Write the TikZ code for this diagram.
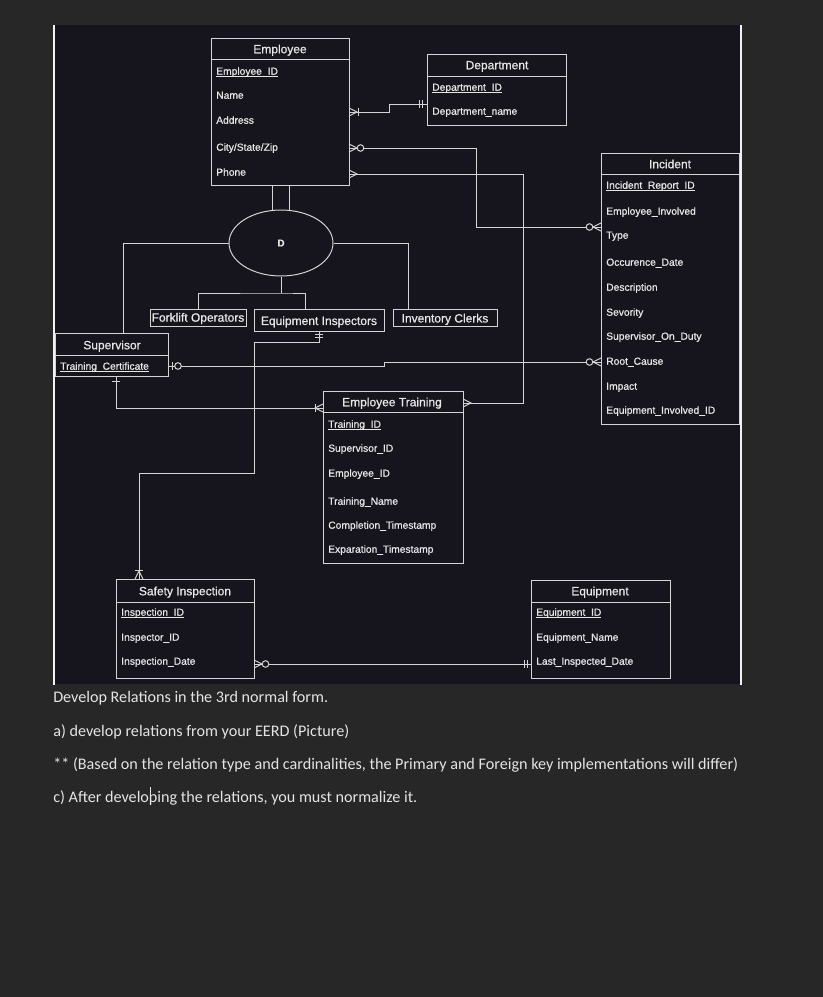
\documentclass[tikz,border=0pt]{standalone}
\usepackage{fontspec}
\setmainfont{Liberation Sans}[RawFeature={embolden=0.8}]
\newfontfamily\bodyfont{Carlito}
\usetikzlibrary{fit,shapes.geometric}
\definecolor{pagegray}{HTML}{272727}
\definecolor{canvasblk}{HTML}{16141C}
\definecolor{lncol}{HTML}{D4D4D4}
\definecolor{txcol}{HTML}{E6E6E6}
\definecolor{bodytx}{HTML}{E4E4E4}
\definecolor{edgewhite}{HTML}{F2F2F2}
\newcommand\ulin[1]{\leavevmode\setbox0\hbox{#1}\rlap{\rule[-1.2pt]{\wd0}{0.6pt}}\box0}
\begin{document}
\begin{tikzpicture}[x=0.75pt,y=-0.75pt,
  ln/.style={draw=lncol,line width=0.75pt},
  ent/.style={draw=lncol,line width=0.75pt,inner sep=0pt,outer sep=0pt},
  ttl/.style={anchor=base,yshift=-3.2pt,inner sep=0pt,text=txcol,font=\fontsize{9}{11}\selectfont},
  attr/.style={anchor=base west,yshift=-2.8pt,inner sep=0pt,text=txcol,font=\fontsize{7.7}{9}\selectfont},
  body/.style={anchor=base west,inner sep=0pt,text=bodytx,font=\bodyfont\fontsize{12.12}{14}\selectfont},
  pics/mcrow/.style={code={\draw[ln] (0,-4) -- (8,0) -- (0,4);}},
  pics/mbar/.style={code={\draw[ln] (#1,-4) -- (#1,4);}},
  pics/mring/.style={code={\draw[ln,fill=canvasblk] (#1,0) circle[radius=3.3];}},
]
\useasboundingbox (0,0) rectangle (823,997);
\fill[pagegray] (0,0) rectangle (823,997);
\fill[canvasblk] (55,25) rectangle (740,684);
\fill[edgewhite] (53,25) rectangle (55,685);
\fill[edgewhite] (740,25) rectangle (742,685);

% ---------- Employee ----------
\node[ent,fit={(211,38)(349,185)}] (emp) {};
\draw[ln] (emp.west |- 0,59) -- (emp.east |- 0,59);
\node[ttl] (empT) at (280,49) {Employee};
\node[attr] (empA1) at (216,71) {\ulin{Employee\_ID}};
\node[attr] (empA2) at (216,95) {Name};
\node[attr] (empA3) at (216,120) {Address};
\node[attr] (empA4) at (216,147) {City/State/Zip};
\node[attr] (empA5) at (216,172) {Phone};

% ---------- Department ----------
\node[ent,fit={(427,54)(566,125)}] (dep) {};
\draw[ln] (dep.west |- 0,76) -- (dep.east |- 0,76);
\node[ttl] (depT) at (497,65) {Department};
\node[attr] (depA1) at (432,87) {\ulin{Department\_ID}};
\node[attr] (depA2) at (432,111) {Department\_name};

% ---------- Incident ----------
\node[ent,fit={(601,153)(739,424)}] (inc) {};
\draw[ln] (inc.west |- 0,174) -- (inc.east |- 0,174);
\node[ttl] (incT) at (670,164) {Incident};
\node[attr] (incA1) at (606,185) {\ulin{Incident\_Report\_ID}};
\node[attr] (incA2) at (606,211) {Employee\_Involved};
\node[attr] (incA3) at (606,235) {Type};
\node[attr] (incA4) at (606,262) {Occurence\_Date};
\node[attr] (incA5) at (606,287) {Description};
\node[attr] (incA6) at (606,312) {Sevority};
\node[attr] (incA7) at (606,336) {Supervisor\_On\_Duty};
\node[attr] (incA8) at (606,361) {Root\_Cause};
\node[attr] (incA9) at (606,386) {Impact};
\node[attr] (incA10) at (606,410) {Equipment\_Involved\_ID};

% ---------- Supervisor ----------
\node[ent,fit={(55,333)(168,376)}] (sup) {};
\draw[ln] (sup.west |- 0,355) -- (sup.east |- 0,355);
\node[ttl] (supT) at (112,345) {Supervisor};
\node[attr] (supA1) at (60,366) {\ulin{Training\_Certificate}};

% ---------- Disjoint circle ----------
\node[draw=lncol,line width=0.75pt,ellipse,minimum width=78pt,minimum height=49.5pt,inner sep=0pt,
      text=txcol,font=\bfseries\fontsize{7.5}{9}\selectfont] (dis) at (281,243) {D};

% ---------- Subclasses ----------
\node[ent,fit={(150,309)(246,326)}] (fork) {};
\node[ttl] (forkT) at (198,317.4) {Forklift Operators};
\node[ent,fit={(254,309)(384,331)}] (ei) {};
\node[ttl] (eiT) at (319,320.7) {Equipment Inspectors};
\node[ent,fit={(393,309)(497,326)}] (inv) {};
\node[ttl] (invT) at (445,318.2) {Inventory Clerks};

% ---------- Employee Training ----------
\node[ent,fit={(323,391)(463,563)}] (et) {};
\draw[ln] (et.west |- 0,412) -- (et.east |- 0,412);
\node[ttl] (etT) at (392,402) {Employee Training};
\node[attr] (etA1) at (328,424) {\ulin{Training\_ID}};
\node[attr] (etA2) at (328,448) {Supervisor\_ID};
\node[attr] (etA3) at (328,473) {Employee\_ID};
\node[attr] (etA4) at (328,501) {Training\_Name};
\node[attr] (etA5) at (328,525) {Completion\_Timestamp};
\node[attr] (etA6) at (328,549) {Exparation\_Timestamp};

% ---------- Safety Inspection ----------
\node[ent,fit={(116,579)(254,678)}] (si) {};
\draw[ln] (si.west |- 0,602) -- (si.east |- 0,602);
\node[ttl] (siT) at (185,591) {Safety Inspection};
\node[attr] (siA1) at (121,612) {\ulin{Inspection\_ID}};
\node[attr] (siA2) at (121,637) {Inspector\_ID};
\node[attr] (siA3) at (121,661) {Inspection\_Date};

% ---------- Equipment ----------
\node[ent,fit={(531,580)(670,678)}] (eq) {};
\draw[ln] (eq.west |- 0,602) -- (eq.east |- 0,602);
\node[ttl] (eqT) at (600,591) {Equipment};
\node[attr] (eqA1) at (536,612) {\ulin{Equipment\_ID}};
\node[attr] (eqA2) at (536,637) {Equipment\_Name};
\node[attr] (eqA3) at (536,661) {Last\_Inspected\_Date};

% ---------- Specialisation lines ----------
\draw[ln] (emp.south -| 272,0) -- (dis.north -| 272,0);
\draw[ln] (emp.south -| 289,0) -- (dis.north -| 289,0);
\draw[ln] (sup.north -| 123,0) -- (123,243) -- (dis.west);
\draw[ln] (dis.east) -- (408,243) -- (inv.north -| 408,0);
\coordinate (dfork) at (281,293);
\draw[ln] (dis.south) -- (dfork);
\draw[ln] (fork.north) |- (dfork) -| (ei.north -| 305,0);

% ---------- Relationships ----------
% Employee - Department
\draw[ln] (emp.east |- 0,112) -- (389,112) -- (389,104) -- (dep.west |- 0,104);
\pic at (emp.east |- 0,112) {mcrow};
\pic at (emp.east |- 0,112) {mbar=9};
\pic[rotate=180] at (dep.west |- 0,104) {mbar=5};
\pic[rotate=180] at (dep.west |- 0,104) {mbar=8};

% Employee - Incident
\draw[ln] (emp.east |- 0,148) -- (476,148) -- (476,227) -- (inc.west |- 0,227);
\pic at (emp.east |- 0,148) {mcrow};
\pic at (emp.east |- 0,148) {mring=11.5};
\pic[rotate=180] at (inc.west |- 0,227) {mcrow};
\pic[rotate=180] at (inc.west |- 0,227) {mring=11.5};

% Employee - Employee Training
\draw[ln] (emp.east |- 0,174) -- (523,174) -- (523,403) -- (et.east |- 0,403);
\pic at (emp.east |- 0,174) {mcrow};
\pic at (et.east |- 0,403) {mcrow};

% Supervisor - Incident
\draw[ln] (sup.east |- 0,366) -- (384,366) -- (384,362) -- (inc.west |- 0,362);
\pic at (sup.east |- 0,366) {mbar=4};
\pic at (sup.east |- 0,366) {mring=10};
\pic[rotate=180] at (inc.west |- 0,362) {mcrow};
\pic[rotate=180] at (inc.west |- 0,362) {mring=11.5};

% Supervisor - Employee Training
\draw[ln] (sup.south -| 116,0) -- (116,408) -- (et.west |- 0,408);
\pic[rotate=-90] at (sup.south -| 116,0) {mbar=5};
\pic[rotate=180] at (et.west |- 0,408) {mcrow};
\pic[rotate=180] at (et.west |- 0,408) {mbar=8};

% Equipment Inspectors - Safety Inspection
\draw[ln] (ei.south -| 319,0) -- (319,342) -- (254,342) -- (254,473) -- (139,473) -- (si.north -| 139,0);
\pic[rotate=-90] at (ei.south -| 319,0) {mbar=3};
\pic[rotate=-90] at (ei.south -| 319,0) {mbar=6};
\pic[rotate=90] at (si.north -| 139,0) {mcrow};
\pic[rotate=90] at (si.north -| 139,0) {mbar=9};

% Safety Inspection - Equipment
\draw[ln] (si.east |- 0,664) -- (eq.west |- 0,664);
\pic at (si.east |- 0,664) {mcrow};
\pic at (si.east |- 0,664) {mring=11.5};
\pic[rotate=180] at (eq.west |- 0,664) {mbar=4};
\pic[rotate=180] at (eq.west |- 0,664) {mbar=7};

% ---------- Text below ----------
\node[body] (t1) at (53,702) {Develop Relations in the 3rd normal form.};
\node[body] (t2) at (53,736) {a) develop relations from your EERD (Picture)};
\node[body] (t3) at (53,769) {** (Based on the relation type and cardinalities, the Primary and Foreign key implementations will differ)};
\node[body] (t4) at (53,802) {c) After develo\rlap{\hspace{0.4pt}\rule[-2.5pt]{0.6pt}{13.5pt}}ping the relations, you must normalize it.};
\end{tikzpicture}
\end{document}
